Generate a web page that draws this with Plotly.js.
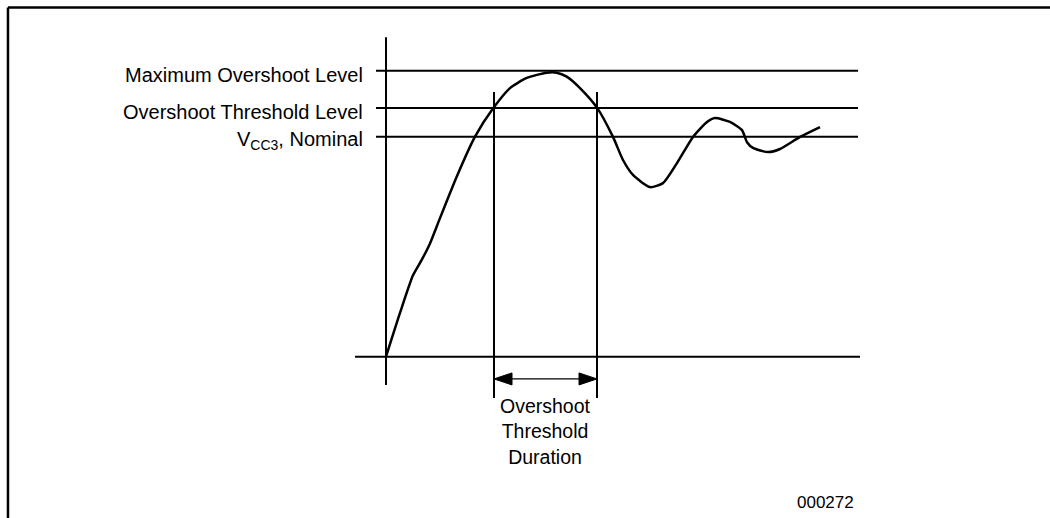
<!DOCTYPE html>
<html>
<head>
<meta charset="utf-8">
<script src="https://cdn.plot.ly/plotly-3.0.1.min.js"></script>
<style>html,body{margin:0;padding:0;background:#fff;}#chart{width:1050px;height:518px;}</style>
</head>
<body>
<div id="chart"></div>
<script>
// ---- data (time t in arbitrary units, voltage V relative to nominal) ----
var curveT = [0, 1.4, 2.7, 3.57, 4.4, 5.4, 7.07, 8.9, 10.73, 12.4, 14.07, 16.07, 17.07, 18.07, 19.4, 21.13, 22.7, 23.7, 24.7, 26.4, 27.7, 29.1, 30.7, 32.1, 32.9, 34.4, 35.6, 36.1, 36.7, 38.2, 39.4, 41.4, 43.4];
var curveV = [0, 0.199, 0.37, 0.44, 0.515, 0.63, 0.818, 1.0, 1.13, 1.221, 1.267, 1.291, 1.291, 1.273, 1.221, 1.13, 0.999, 0.894, 0.826, 0.771, 0.789, 0.88, 0.999, 1.067, 1.085, 1.067, 1.03, 0.975, 0.949, 0.93, 0.944, 0.999, 1.044];

var levelNames = ["Maximum Overshoot Level", "Overshoot Threshold Level", "V<sub>CC3</sub>, Nominal"];
var levelValues = [1.30, 1.13, 1.0];
var levelRangeT = [-1.0, 47.2];

var durationT = [10.8, 21.1];          // crossing times of threshold level
var durationLineV = [-0.188, 1.203];   // extent of the duration marker lines
var durationArrowV = -0.101;
var durationLabel = "Overshoot<br>Threshold<br>Duration";

var axisVRange = [-0.129, 1.452];
var baselineTRange = [-3.1, 47.4];
var figureId = "000272";

// ---- style ----
var BLACK = "#000";
var FONT = "Liberation Sans, Arial, Helvetica, sans-serif";
var headLen = 1.8, headHalf = 0.0273;

var traces = [];
function seg(x, y, w) {
  traces.push({x: x, y: y, mode: "lines", line: {color: BLACK, width: w}, hoverinfo: "skip", showlegend: false});
}
// axes
seg([0, 0], axisVRange, 2);
seg(baselineTRange, [0, 0], 2);
// levels
levelValues.forEach(function (v) { seg(levelRangeT, [v, v], 2); });
// duration lines
durationT.forEach(function (t) { seg([t, t], durationLineV, 2); });
// arrow shaft
seg([durationT[0] + headLen, durationT[1] - headLen], [durationArrowV, durationArrowV], 1.2);
// arrow heads
function head(tip, dir) {
  traces.push({
    x: [tip, tip + dir * headLen, tip + dir * headLen, tip],
    y: [durationArrowV, durationArrowV + headHalf, durationArrowV - headHalf, durationArrowV],
    mode: "lines", fill: "toself", fillcolor: BLACK, line: {color: BLACK, width: 1},
    hoverinfo: "skip", showlegend: false
  });
}
head(durationT[0], 1);
head(durationT[1], -1);
// waveform
traces.push({x: curveT, y: curveV, mode: "lines", line: {color: BLACK, width: 2.5, shape: "spline", smoothing: 0.6}, hoverinfo: "skip", showlegend: false});

var annotations = levelNames.map(function (name, i) {
  return {x: -2.1, y: levelValues[i], xref: "x", yref: "y", text: name, showarrow: false,
    xanchor: "right", yanchor: "middle", yshift: -4, font: {family: FONT, size: 20, color: BLACK}};
});
annotations.push({x: (durationT[0] + durationT[1]) / 2, y: durationArrowV, xref: "x", yref: "y", text: durationLabel,
  showarrow: false, xanchor: "center", yanchor: "top", yshift: -14, font: {family: FONT, size: 19.5, color: BLACK}});
annotations.push({x: 0.815, y: 0.03, xref: "paper", yref: "paper", text: figureId, showarrow: false,
  xanchor: "right", yanchor: "middle", font: {family: FONT, size: 17, color: BLACK}});

var layout = {
  width: 1050, height: 518,
  margin: {l: 0, r: 0, t: 0, b: 0},
  paper_bgcolor: "#fff", plot_bgcolor: "#fff",
  xaxis: {range: [-38.6, 66.4], visible: false, fixedrange: true},
  yaxis: {range: [-0.7332, 1.6214], visible: false, fixedrange: true},
  showlegend: false,
  annotations: annotations,
  shapes: [
    {type: "line", xref: "paper", yref: "paper", x0: 0.0076, x1: 1, y0: 0.9855, y1: 0.9855, line: {color: BLACK, width: 2.5}},
    {type: "line", xref: "paper", yref: "paper", x0: 0.0076, x1: 0.0076, y0: 0, y1: 0.9855, line: {color: BLACK, width: 2.5}}
  ]
};
Plotly.newPlot("chart", traces, layout, {staticPlot: true, displayModeBar: false});
</script>
</body>
</html>
